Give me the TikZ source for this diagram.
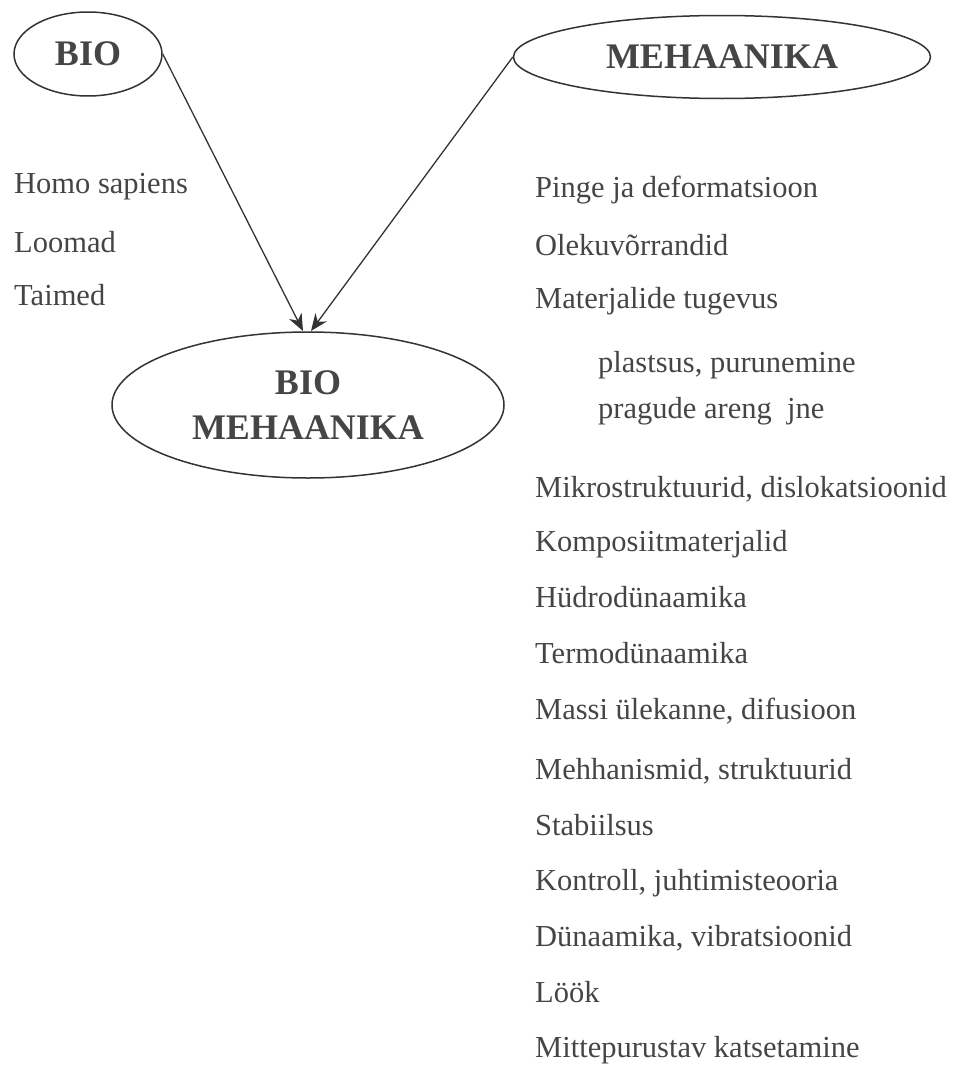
\documentclass[tikz,border=0pt]{standalone}
\usepackage{fontspec}
\setmainfont{Liberation Serif}
\usetikzlibrary{shapes.geometric,arrows.meta}
\definecolor{ink}{HTML}{333333}
\definecolor{txt}{HTML}{454545}
\tikzset{
  oval/.style={draw=ink, line width=1.5pt, ellipse, inner sep=0pt, text=txt,
    font=\fontsize{36}{45}\selectfont\bfseries, align=center},
  item/.style={anchor=base west, inner sep=0pt, text=txt,
    font=\fontsize{30.5}{36}\selectfont},
  arr/.style={draw=ink, line width=1.3pt, -{Stealth[length=17pt,width=14pt]}},
}
\begin{document}
\begin{tikzpicture}[x=1pt,y=-1pt]
\useasboundingbox (0,0) rectangle (955,1068);
\node[oval, minimum width=148pt, minimum height=84pt] (bio) at (88,54) {BIO};
\node[oval, minimum width=417pt, minimum height=83pt] (meh) at (722,57) {MEHAANIKA};
\node[oval, minimum width=392pt, minimum height=146pt] (bm) at (308,405) {BIO\\MEHAANIKA};
\coordinate (tl) at (303,331);
\coordinate (tr) at (311,331);
\draw[arr] (bio.east) -- (tl);
\draw[arr] (meh.west) -- (tr);
% left column
\node[item] (l1) at (14,193) {Homo sapiens};
\node[item] (l2) at (14,252) {Loomad};
\node[item] (l3) at (14,305) {Taimed};
% right column
\node[item] (r1) at (535,197) {Pinge ja deformatsioon};
\node[item] (r2) at (535,255) {Olekuvõrrandid};
\node[item] (r3) at (535,308) {Materjalide tugevus};
\node[item] (r4) at (598,372) {plastsus, purunemine};
\node[item] (r5) at (598,418) {pragude areng\ \ jne};
\node[item] (r6) at (535,497) {Mikrostruktuurid, dislokatsioonid};
\node[item] (r7) at (535,551) {Komposiitmaterjalid};
\node[item] (r8) at (535,607) {Hüdrodünaamika};
\node[item] (r9) at (535,663) {Termodünaamika};
\node[item] (r10) at (535,719) {Massi ülekanne, difusioon};
\node[item] (r11) at (535,779) {Mehhanismid, struktuurid};
\node[item] (r12) at (535,835) {Stabiilsus};
\node[item] (r13) at (535,890) {Kontroll, juhtimisteooria};
\node[item] (r14) at (535,946) {Dünaamika, vibratsioonid};
\node[item] (r15) at (535,1002) {Löök};
\node[item] (r16) at (535,1057) {Mittepurustav katsetamine};
\end{tikzpicture}
\end{document}
